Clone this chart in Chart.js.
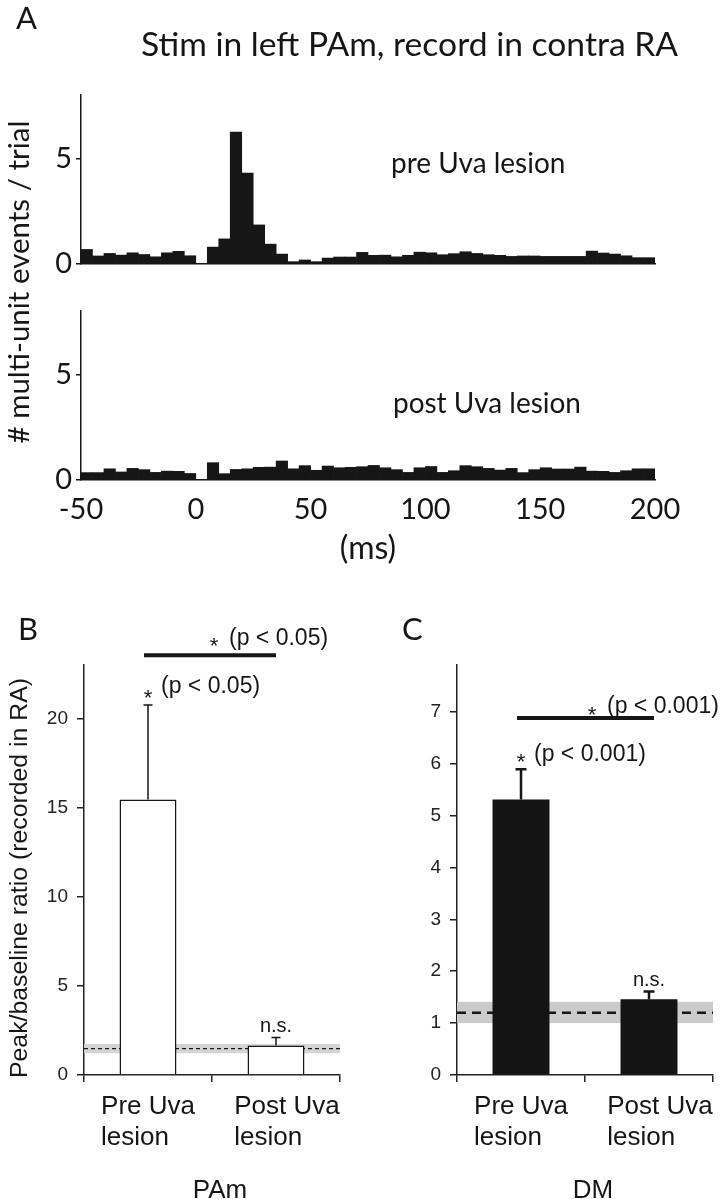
<!DOCTYPE html>
<html><head><meta charset="utf-8"><title>Stim in left PAm, record in contra RA</title>
<script src="https://cdn.jsdelivr.net/npm/chart.js@4.4.1/dist/chart.umd.min.js"></script>
<style>
html,body{margin:0;padding:0;background:#fff;overflow:hidden;}
#wrap{position:relative;width:723px;height:1199px;background:#fff;}
#wrap canvas{position:absolute;left:0;top:0;}
</style></head><body>
<div id="wrap">
<canvas id="cPre" width="723" height="1199"></canvas>
<canvas id="cPost" width="723" height="1199"></canvas>
<canvas id="cPAm" width="723" height="1199"></canvas>
<canvas id="cDM" width="723" height="1199"></canvas>
</div>
<script>
// ---------------- data ----------------
const binWidth = 5; // ms
const binStarts = [-50,-45,-40,-35,-30,-25,-20,-15,-10,-5,0,5,10,15,20,25,30,35,40,45,50,55,60,65,70,75,80,85,90,95,100,105,110,115,120,125,130,135,140,145,150,155,160,165,170,175,180,185,190,195];
const preLesion = [0.69,0.38,0.50,0.42,0.53,0.45,0.34,0.53,0.60,0.39,0.00,0.80,1.19,6.25,4.30,1.85,0.94,0.47,0.11,0.19,0.11,0.28,0.33,0.33,0.55,0.41,0.42,0.34,0.41,0.56,0.53,0.44,0.49,0.58,0.50,0.44,0.41,0.36,0.38,0.38,0.36,0.36,0.36,0.36,0.61,0.52,0.47,0.39,0.30,0.30];
const postLesion = [0.35,0.35,0.53,0.38,0.55,0.49,0.36,0.42,0.41,0.31,0.00,0.82,0.30,0.50,0.53,0.60,0.61,0.90,0.53,0.68,0.46,0.66,0.58,0.60,0.63,0.69,0.58,0.49,0.36,0.58,0.64,0.36,0.44,0.68,0.63,0.55,0.47,0.55,0.35,0.49,0.58,0.52,0.52,0.61,0.42,0.41,0.36,0.44,0.53,0.53];
const histTicksX = [-50,0,50,100,150,200];
const histTicksY = [0,5];

const groupLabels = [['Pre Uva','lesion'],['Post Uva','lesion']];
const pamMeans = [15.46, 1.65];
const pamSem = [5.3, 0.46];
const pamBaseline = 1.48;
const pamBand = [1.22, 1.74];
const pamSigLevel = 23.55;
const pamTicks = [0,5,10,15,20];
const dmMeans = [5.31, 1.46];
const dmSem = [0.58, 0.15];
const dmBaseline = 1.2;
const dmBand = [1.0, 1.41];
const dmSigLevel = 6.88;
const dmTicks = [0,1,2,3,4,5,6,7];

// ---------------- helpers ----------------
const PAGE_W = 723, PAGE_H = 1199;
const FA = 'Lato, "Open Sans", sans-serif';
const FB = '"Liberation Sans", Arial, sans-serif';
const INK = '#161616';

function pad(area, yW, xH){
  return {left: area.L - yW, top: area.T, right: PAGE_W - area.R, bottom: PAGE_H - area.B - xH};
}
function fitSize(ctx, text, family, target){
  ctx.save(); ctx.font = '100px ' + family;
  const w = ctx.measureText(text).width; ctx.restore();
  return 100 * target / w;
}
function txt(ctx, text, x, yc, font, align, color){
  ctx.save();
  ctx.font = font; ctx.fillStyle = color || INK;
  ctx.textAlign = align || 'left'; ctx.textBaseline = 'alphabetic';
  const m = ctx.measureText(text);
  ctx.fillText(text, x, yc + (m.actualBoundingBoxAscent - m.actualBoundingBoxDescent) / 2);
  ctx.restore();
}
function vtxt(ctx, text, xc, yc, font){
  ctx.save(); ctx.translate(xc, yc); ctx.rotate(-Math.PI/2);
  txt(ctx, text, 0, 0, font, 'center'); ctx.restore();
}

// ---------------- histograms ----------------
function histChart(id, values, area, showX, maxY, drawFn){
  return new Chart(document.getElementById(id), {
    type: 'bar',
    data: { datasets: [{
      data: binStarts.map((s, i) => ({x: s + binWidth / 2, y: values[i]})),
      backgroundColor: INK, borderWidth: 0, barPercentage: 1, categoryPercentage: 1
    }]},
    options: {
      responsive: false, animation: false, events: [],
      layout: {padding: pad(area, 60, 60)},
      plugins: {legend: {display: false}, tooltip: {enabled: false}},
      scales: {
        x: {
          type: 'linear', min: -50, max: 200, offset: false,
          afterBuildTicks: s => { s.ticks = histTicksX.map(v => ({value: v})); },
          afterFit: s => { s.height = 60; },
          grid: {display: false, drawTicks: false, offset: false},
          border: {display: true, color: INK, width: 1.5},
          ticks: {display: showX, font: {family: FA, size: 29}, color: INK, padding: 12, maxRotation: 0, autoSkip: false}
        },
        y: {
          min: 0, max: maxY,
          afterBuildTicks: s => { s.ticks = histTicksY.map(v => ({value: v})); },
          afterFit: s => { s.width = 60; },
          grid: {display: true, drawOnChartArea: false, drawTicks: true, tickLength: 5, color: INK, lineWidth: 1.5},
          border: {display: true, color: INK, width: 1.5},
          ticks: {font: {family: FA, size: 29}, color: INK, padding: 4}
        }
      }
    },
    plugins: [{id: 'decoA', afterDraw: chart => drawFn(chart)}]
  });
}

histChart('cPre', preLesion, {L: 81, T: 95, R: 655, B: 264}, false, 8, chart => {
  const ctx = chart.ctx;
  txt(ctx, 'A', 16, 18, '31px ' + FA, 'left');
  const title = 'Stim in left PAm, record in contra RA';
  txt(ctx, title, 141, 46, fitSize(ctx, title, FA, 537).toFixed(2) + 'px ' + FA, 'left');
  const ls = fitSize(ctx, 'post Uva lesion', FA, 188).toFixed(2);
  txt(ctx, 'pre Uva lesion', 391, 165, ls + 'px ' + FA, 'left');
});

histChart('cPost', postLesion, {L: 81, T: 311, R: 655, B: 480}, true, 8, chart => {
  const ctx = chart.ctx;
  const ls = fitSize(ctx, 'post Uva lesion', FA, 188).toFixed(2);
  txt(ctx, 'post Uva lesion', 393, 405, ls + 'px ' + FA, 'left');
  txt(ctx, '(ms)', 368, 548, '32px ' + FA, 'center');
  const yt = '# multi-unit events / trial';
  vtxt(ctx, yt, 19, 282, fitSize(ctx, yt, FA, 323).toFixed(2) + 'px ' + FA);
});

// ---------------- bar panels ----------------
function barPanel(id, cfg){
  const a = cfg.area;
  return new Chart(document.getElementById(id), {
    type: 'bar',
    data: { labels: groupLabels, datasets: [{
      data: cfg.means,
      backgroundColor: cfg.fill, borderColor: INK, borderWidth: cfg.border,
      barPercentage: 0.445, categoryPercentage: 1
    }]},
    options: {
      responsive: false, animation: false, events: [],
      layout: {padding: pad(a, 70, 40)},
      plugins: {legend: {display: false}, tooltip: {enabled: false}},
      scales: {
        x: {
          afterFit: s => { s.height = 40; },
          grid: {display: true, drawOnChartArea: false, drawTicks: true, tickLength: 7, color: '#222', lineWidth: 1.5, offset: true},
          border: {display: true, color: '#222', width: 1.5},
          ticks: {display: false}
        },
        y: {
          min: 0, max: cfg.maxY,
          afterBuildTicks: s => { s.ticks = cfg.ticks.map(v => ({value: v})); },
          afterFit: s => { s.width = 70; },
          grid: {display: true, drawOnChartArea: false, drawTicks: true, tickLength: 7, color: '#222', lineWidth: 1.5},
          border: {display: true, color: '#222', width: 1.5},
          ticks: {font: {family: FB, size: 19}, color: '#222', padding: 9}
        }
      }
    },
    plugins: [{
      id: 'decoBC',
      beforeDatasetsDraw(chart){
        const {ctx, chartArea: ca, scales: {y}} = chart;
        ctx.save();
        ctx.fillStyle = cfg.bandColor;
        const yb1 = y.getPixelForValue(cfg.band[1]), yb0 = y.getPixelForValue(cfg.band[0]);
        ctx.fillRect(ca.left, yb1, ca.right - ca.left, yb0 - yb1);
        ctx.strokeStyle = INK; ctx.lineWidth = cfg.dashWidth; ctx.setLineDash(cfg.dash);
        const yd = y.getPixelForValue(cfg.baseline);
        ctx.beginPath(); ctx.moveTo(ca.left, yd); ctx.lineTo(ca.right, yd); ctx.stroke();
        ctx.restore();
      },
      afterDraw(chart){
        const {ctx, chartArea: ca, scales: {x, y}} = chart;
        const bars = chart.getDatasetMeta(0).data;
        ctx.save();
        ctx.strokeStyle = INK; ctx.lineWidth = cfg.errWidth;
        const errTop = [];
        bars.forEach((b, i) => {
          const yt = y.getPixelForValue(cfg.means[i] + cfg.sem[i]);
          errTop.push(yt);
          ctx.beginPath();
          ctx.moveTo(b.x, y.getPixelForValue(cfg.means[i])); ctx.lineTo(b.x, yt);
          ctx.moveTo(b.x - cfg.cap / 2, yt); ctx.lineTo(b.x + cfg.cap / 2, yt);
          ctx.stroke();
        });
        const sy = y.getPixelForValue(cfg.sigLevel);
        const sx0 = bars[0].x - 4, sx1 = bars[1].x + cfg.sigEndDx;
        ctx.lineWidth = 4; ctx.beginPath(); ctx.moveTo(sx0, sy); ctx.lineTo(sx1, sy); ctx.stroke();
        ctx.restore();
        const pf = '23px ' + FB, sf = '22px ' + FB;
        const usx = sx1 - 62;
        txt(ctx, '*', usx, sy + cfg.upperDy + 4, sf, 'center');
        txt(ctx, cfg.pText, usx + 15, sy + cfg.upperDy, pf, 'left');
        const lx = bars[0].x;
        txt(ctx, '*', lx, errTop[0] - 11, sf, 'center');
        txt(ctx, cfg.pText, lx + 13, errTop[0] + cfg.lowerDy, pf, 'left');
        txt(ctx, 'n.s.', bars[1].x, errTop[1] - 11, '20px ' + FB, 'center');
        ctx.save(); ctx.font = '26px ' + FB;
        groupLabels.forEach((lines, i) => {
          const w0 = ctx.measureText(lines[0]).width;
          const left = x.getPixelForValue(i) - w0 / 2 + cfg.labelShift[i];
          lines.forEach((ln, k) => txt(ctx, ln, left, ca.bottom + 30 + 30 * k, '26px ' + FB, 'left'));
        });
        ctx.restore();
        txt(ctx, cfg.region, (ca.left + ca.right) / 2 + 8, ca.bottom + 114, '26px ' + FB, 'center');
        txt(ctx, cfg.letter, cfg.letterX, 629, '31px ' + FA, 'left');
        if (cfg.yTitle) {
          vtxt(ctx, cfg.yTitle, 20, 878, fitSize(ctx, cfg.yTitle, FB, 400).toFixed(2) + 'px ' + FB);
        }
      }
    }]
  });
}

barPanel('cPAm', {
  area: {L: 84, T: 665, R: 340, B: 1075}, maxY: 23, ticks: pamTicks,
  means: pamMeans, sem: pamSem, fill: '#ffffff', border: 1.5,
  band: pamBand, baseline: pamBaseline, bandColor: '#d4d4d4', dash: [4, 3], dashWidth: 1.2,
  errWidth: 1.5, cap: 9, sigLevel: pamSigLevel, sigEndDx: 0, upperDy: -17, lowerDy: -18,
  pText: '(p < 0.05)', region: 'PAm', letter: 'B', letterX: 18, labelShift: [0, 11],
  yTitle: 'Peak/baseline ratio (recorded in RA)'
});

barPanel('cDM', {
  area: {L: 457, T: 665, R: 713, B: 1075}, maxY: 7.9, ticks: dmTicks,
  means: dmMeans, sem: dmSem, fill: '#141414', border: 0,
  band: dmBand, baseline: dmBaseline, bandColor: '#cbcbcb', dash: [9, 6], dashWidth: 2.5,
  errWidth: 2.5, cap: 11, sigLevel: dmSigLevel, sigEndDx: 5, upperDy: -11, lowerDy: -15,
  pText: '(p < 0.001)', region: 'DM', letter: 'C', letterX: 402, labelShift: [0, 11],
  yTitle: null
});
</script>
</body></html>
